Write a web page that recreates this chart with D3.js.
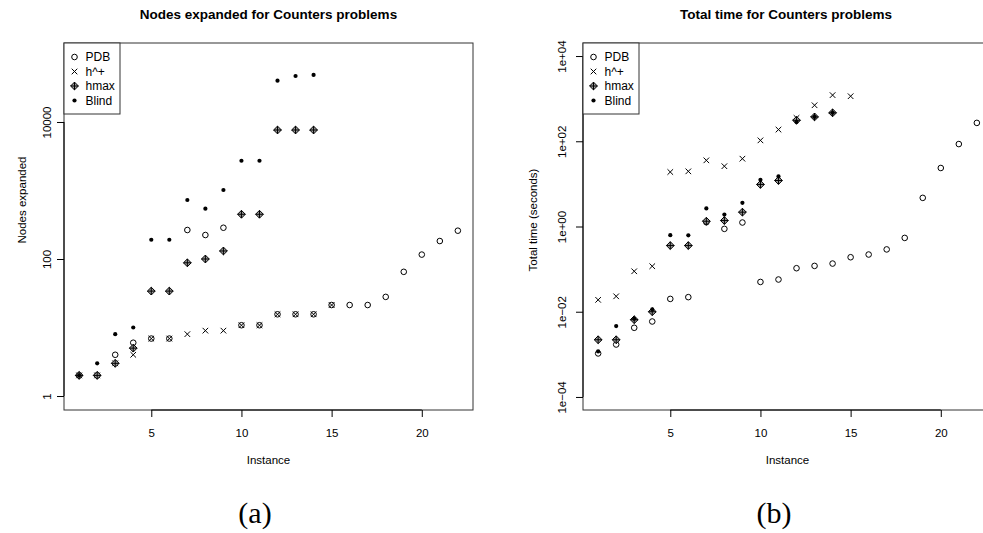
<!DOCTYPE html>
<html><head><meta charset="utf-8">
<script src="https://cdn.jsdelivr.net/npm/d3@7"></script>
<style>body{margin:0;background:#fff}svg{display:block}text{font-family:"Liberation Sans",Arial,sans-serif}</style>
</head><body><svg id="c" width="983" height="533"></svg>
<script>
// ---- data ----
const instances = d3.range(1, 23);
const seriesNames = ["PDB", "h^+", "hmax", "Blind"];
// Panel (a): nodes expanded
const pdbNodes   = [2,2,4,6,6.9,6.9,265,224,286,10.8,10.8,15.6,15.6,15.6,21.3,21.3,21.3,28,65,116,183,259];
const hplusNodes = [2,2,3,4,6.9,6.9,8,9,9,10.8,10.8,15.6,15.6,15.6,21.3];
const hmaxNodes  = [2,2,3,5,34,34,88,100,131,450,450,7640,7640,7640];
const blindNodes = [2,3,8,10,191,191,727,542,1017,2720,2720,40100,46900,48600];
// Panel (b): total time (seconds)
const pdbTime   = [0.00105,0.0017,0.0042,0.0059,0.020,0.022,1.26,0.88,1.24,0.05,0.057,0.105,0.119,0.135,0.19,0.22,0.29,0.54,4.7,23.6,86,270];
const hplusTime = [0.019,0.023,0.089,0.117,19,19.7,35.7,26,39,105,188,353,700,1210,1140];
const hmaxTime  = [0.0022,0.0022,0.0065,0.010,0.357,0.357,1.33,1.38,2.17,9.7,12,311,373,465];
const blindTime = [0.00117,0.0046,0.0068,0.0113,0.625,0.62,2.65,1.9,3.6,12.5,15,284,373,465];
const xTicks = [5, 10, 15, 20];
const yTicksA = [1, 100, 10000];
const yTicksALabels = ["1", "100", "10000"];
const yTicksB = [1e-4, 1e-2, 1, 1e2, 1e4];
const yTicksBLabels = ["1e\u221204", "1e\u221202", "1e+00", "1e+02", "1e+04"];

const svg = d3.select("#c");
svg.append("rect").attr("width", 983).attr("height", 533).attr("fill", "#fff");

function symbol(g, type, x, y) {
  if (type === 0) {
    g.append("circle").attr("cx", x).attr("cy", y).attr("r", 2.8).attr("fill", "none").attr("stroke", "#000").attr("stroke-width", 1);
  } else if (type === 1) {
    const s = 2.8;
    g.append("path").attr("d", `M${x-s},${y-s}L${x+s},${y+s}M${x-s},${y+s}L${x+s},${y-s}`).attr("stroke", "#000").attr("stroke-width", 1);
  } else if (type === 2) {
    const s = 3.9;
    g.append("path").attr("d", `M${x},${y-s}L${x+s},${y}L${x},${y+s}L${x-s},${y}Z`).attr("fill", "#9a9a9a").attr("stroke", "#000").attr("stroke-width", 1);
    g.append("path").attr("d", `M${x-s},${y}L${x+s},${y}M${x},${y-s}L${x},${y+s}`).attr("stroke", "#000").attr("stroke-width", 1);
  } else {
    g.append("circle").attr("cx", x).attr("cy", y).attr("r", 2.1).attr("fill", "#000");
  }
}

function panel(opt) {
  const g = svg.append("g");
  const x = d3.scaleLinear().domain([0.16, 22.84]).range([opt.left, opt.left + 409]);
  const y = d3.scaleLog().domain(opt.ydom).range([410, 43]);
  // points
  opt.series.forEach((vals, si) => {
    vals.forEach((v, i) => { if (v != null) symbol(g, si, x(instances[i]), y(v)); });
  });
  // box
  g.append("rect").attr("x", opt.left).attr("y", 43).attr("width", 409).attr("height", 367)
    .attr("fill", "none").attr("stroke", "#333").attr("stroke-width", 1);
  // x axis
  const xa = g.append("g").attr("transform", "translate(0,410)")
    .call(d3.axisBottom(x).tickValues(xTicks).tickSize(7).tickPadding(12).tickSizeOuter(0));
  xa.select(".domain").attr("d", `M${x(5)},0H${x(20)}`).attr("stroke", "#000");
  xa.selectAll("text").attr("font-size", 11.5).attr("font-family", "Liberation Sans, Arial, sans-serif").attr("fill", "#000");
  // y axis
  const ya = g.append("g").attr("transform", `translate(${opt.left},0)`)
    .call(d3.axisLeft(y).tickValues(opt.yTicks).tickFormat((d, i) => opt.yLabels[i]).tickSize(7).tickSizeOuter(0));
  ya.select(".domain").attr("d", `M0,${y(opt.yTicks[0])}V${y(opt.yTicks[opt.yTicks.length-1])}`).attr("stroke", "#000");
  ya.selectAll(".tick text").attr("font-size", 11.5).attr("font-family", "Liberation Sans, Arial, sans-serif").attr("fill", "#000")
    .attr("x", 0).attr("y", 0).attr("dy", 0)
    .attr("text-anchor", "middle")
    .attr("transform", function() { return `translate(${-opt.tickLabOff},0) rotate(-90)`; });
  // titles
  g.append("text").attr("x", opt.titleX).attr("y", 19).attr("text-anchor", "middle")
    .attr("font-weight", "bold").attr("font-size", 13.5).text(opt.title);
  g.append("text").attr("x", opt.left + 204.5).attr("y", 464).attr("text-anchor", "middle")
    .attr("font-size", 11.5).text("Instance");
  g.append("text").attr("transform", `translate(${opt.ylabX},${opt.ylabY}) rotate(-90)`).attr("text-anchor", "middle")
    .attr("font-size", 11.5).text(opt.ylab);
  g.append("text").attr("x", opt.capX).attr("y", 523).attr("text-anchor", "middle")
    .style("font-family", "'Liberation Serif', serif").attr("font-size", 30).text(opt.caption);
  // legend
  const lg = g.append("g");
  lg.append("rect").attr("x", opt.left).attr("y", 43).attr("width", 56).attr("height", 71)
    .attr("fill", "#fff").attr("stroke", "#333").attr("stroke-width", 1);
  seriesNames.forEach((n, i) => {
    const yy = 57 + i * 14.5;
    symbol(lg, i, opt.left + 10.5, yy);
    lg.append("text").attr("x", opt.left + 21.5).attr("y", yy + 4.2).attr("font-size", 12).text(n);
  });
}

panel({left: 64, ydom: [Math.pow(10, -0.204), Math.pow(10, 5.153)],
  series: [pdbNodes, hplusNodes, hmaxNodes, blindNodes],
  yTicks: yTicksA, yLabels: yTicksALabels, tickLabOff: 13.5,
  title: "Nodes expanded for Counters problems", titleX: 268.5,
  ylab: "Nodes expanded", ylabX: 26, ylabY: 200, caption: "(a)", capX: 255});
panel({left: 583, ydom: [Math.pow(10, -4.306), Math.pow(10, 4.306)],
  series: [pdbTime, hplusTime, hmaxTime, blindTime],
  yTicks: yTicksB, yLabels: yTicksBLabels, tickLabOff: 17,
  title: "Total time for Counters problems", titleX: 786,
  ylab: "Total time (seconds)", ylabX: 537, ylabY: 220, caption: "(b)", capX: 774});
</script></body></html>
